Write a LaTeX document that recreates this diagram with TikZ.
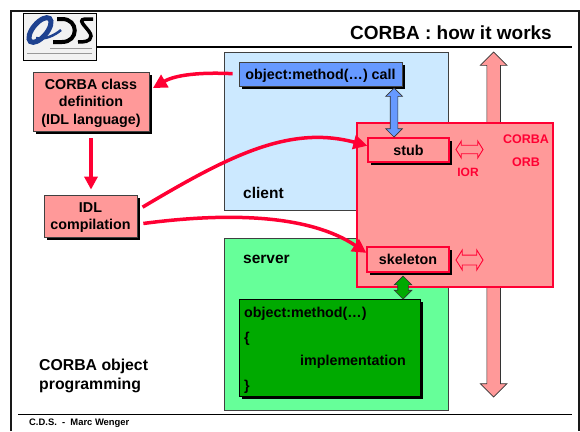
\documentclass[tikz,border=0pt]{standalone}
\usepackage{fontspec}
\setmainfont{Liberation Sans}
\usetikzlibrary{arrows.meta,calc,shadows,shapes.arrows}
\definecolor{orbpink}{HTML}{FF9999}
\definecolor{orbred}{HTML}{FF0033}
\definecolor{clientblue}{HTML}{CCE9FF}
\definecolor{callblue}{HTML}{6699FF}
\definecolor{serverlime}{HTML}{66FF99}
\definecolor{implgreen}{HTML}{00AA00}
\definecolor{logoblue}{HTML}{1F4290}
\newcommand{\fs}[1]{\fontsize{#1}{17.5}\selectfont\bfseries}
\tikzset{
    boxsize/.style 2 args={minimum width=#1pt, minimum height=#2pt},
    hardshadow/.style={general shadow={fill=black, shadow xshift=3pt, shadow yshift=-3pt}},
    area/.style={draw=black!75, line width=0.8pt, inner sep=0pt},
    pinkbox/.style={draw=black!75, fill=orbpink, line width=0.8pt, hardshadow, inner sep=0pt},
    orbbox/.style={draw=orbred, fill=orbpink, line width=1.2pt, hardshadow, inner sep=0pt, font=\fs{14.3}},
    textlabel/.style={inner sep=0pt, align=left, font=\fs{14.3}},
    boxtext/.style={inner sep=0pt, align=center, font=\fs{14.3}},
    redlabel/.style={inner sep=0pt, text=orbred, font=\fs{12.5}},
    redarrow/.style={draw=orbred, line width=3.5pt, -{Triangle[length=14pt,width=14pt]}},
    blockarrow/.style={draw=black!80, line width=0.7pt, double arrow, double arrow tip angle=90},
    iorarrow/.style={draw=orbred, fill=orbpink, line width=0.9pt, double arrow, double arrow tip angle=116, minimum height=27pt},
}
\begin{document}
\begin{tikzpicture}[x=1pt, y=-1pt]
    \useasboundingbox (0,0) rectangle (580,431);
    % frame and rules
    \draw[line width=2pt, black!90] (11,431) -- (11,11) -- (579,11) -- (579,431);
    \draw[line width=2.5pt] (96,47) -- (572,47);
    \draw[line width=1pt] (18,414) -- (572,414);
    % logo
    \filldraw[fill=black!5, draw=black, line width=0.8pt] (23,13.5) rectangle (96,60.5);
    \draw[logoblue, line width=5pt, rotate around={50:(40,30)}] (40,30) ellipse (15pt and 7pt);
    \draw[logoblue, line width=2.5pt] (36,38) .. controls (44,40) and (54,36) .. (61,30);
    \draw[black, line width=4pt] (57,19) -- (62,19) .. controls (79,19) and (79,42) .. (62,42) -- (53,42);
    \draw[black, line width=3.5pt] (93,19) -- (85,19) .. controls (75,20) and (91,30) .. (91,36) .. controls (91,42) and (83,42) .. (78,42);
    \draw[black!40, line width=1pt] (50,48) -- (92,48);
    \draw[black!40, line width=1pt] (27,53) -- (92,53);
    % title and footer
    \node[inner sep=0pt, anchor=east, font=\fs{19}] (title) at (552,33) {CORBA : how it works};
    \node[inner sep=0pt, anchor=west, font=\fs{9.4}] (footer) at (29,423.5) {C.D.S.\ \ -\ \ Marc Wenger};
    \node[textlabel, anchor=north west, font=\fontsize{15.8}{19}\selectfont\bfseries] (progtext) at (39,359) {CORBA object\\programming};
    % client and server areas
    \node[area, fill=clientblue, boxsize={224}{158}] (client) at (336,131) {};
    \node[area, fill=serverlime, boxsize={224}{172}] (server) at (336,324) {};
    \node[textlabel, anchor=west, font=\fs{15.5}] (clienttext) at (243,193) {client};
    \node[textlabel, anchor=west, font=\fs{15.5}] (servertext) at (243,259.5) {server};
    % ORB bus and box
    \node[blockarrow, fill=orbpink, inner sep=6.5pt, double arrow head extend=6.5pt, minimum height=345pt, rotate=90] (busarrow) at (493.7,224.5) {};
    \node[draw=orbred, fill=orbpink, line width=1.3pt, boxsize={196}{164}, inner sep=0pt] (orb) at (455,205) {};
    \node[redlabel] (orbtext1) at (526,139) {CORBA};
    \node[redlabel] (orbtext2) at (526,162) {ORB};
    \node[redlabel, font=\fs{12}] (iortext) at (468,172) {IOR};
    % boxes
    \node[pinkbox, boxsize={116}{59}] (classdef) at (91,101.5) {};
    \node[boxtext] (classtext) at ([yshift=-1.5pt]classdef.center) {CORBA class\\definition\\(IDL language)};
    \node[pinkbox, boxsize={93}{42}] (idl) at (90.5,216) {};
    \node[boxtext] (idltext) at ([yshift=-1.5pt]idl.center) {IDL\\compilation};
    \node[pinkbox, fill=callblue, boxsize={163}{24}] (call) at (320.5,74) {};
    \node[boxtext] (calltext) at ([yshift=-1.5pt]call.center) {object:method(…) call};
    \node[orbbox, boxsize={81}{24}] (stub) at (408.5,150) {stub};
    \node[orbbox, boxsize={82}{25}] (skeleton) at (408,259.5) {skeleton};
    \node[pinkbox, fill=implgreen, draw=black, boxsize={181}{97}] (impl) at (329.5,347.5) {};
    \node[textlabel, anchor=west] (implsig) at (244,314) {object:method(…)};
    \node[textlabel, anchor=west] (implopen) at (244,339) {\{};
    \node[textlabel] (impltext) at (353,362) {implementation};
    \node[textlabel, anchor=west] (implclose) at (244,387) {\}};
    % block arrows
    \node[blockarrow, fill=callblue, inner sep=3.5pt, double arrow head extend=4.5pt, minimum height=49pt, rotate=90] (callarrow) at (394,112.5) {};
    \node[blockarrow, fill=implgreen, inner sep=5pt, double arrow head extend=3.5pt, minimum height=23pt, rotate=90] (implarrow) at (403,287.5) {};
    \node[iorarrow, inner sep=3.8pt, double arrow head extend=4.2pt] (iorarrow1) at (469.5,149.5) {};
    \node[iorarrow, inner sep=4.5pt, double arrow head extend=5pt] (iorarrow2) at (469.5,260) {};
    % red connectors
    \draw[redarrow, shorten <=6pt, shorten >=4pt] (call.west) .. controls (200,72) and (175,75) .. (classdef.11);
    \draw[redarrow, -{Triangle[length=13pt,width=13pt]}, shorten <=7pt, shorten >=5pt] (classdef.south) -- (idl.north -| classdef.south);
    \draw[redarrow, shorten <=6pt] (idl.7) .. controls (230,155) and (290,125) .. (stub.174);
    \draw[redarrow, shorten <=6pt] (idl.-10) .. controls (230,212) and (310,215) .. (skeleton.171);
\end{tikzpicture}
\end{document}
